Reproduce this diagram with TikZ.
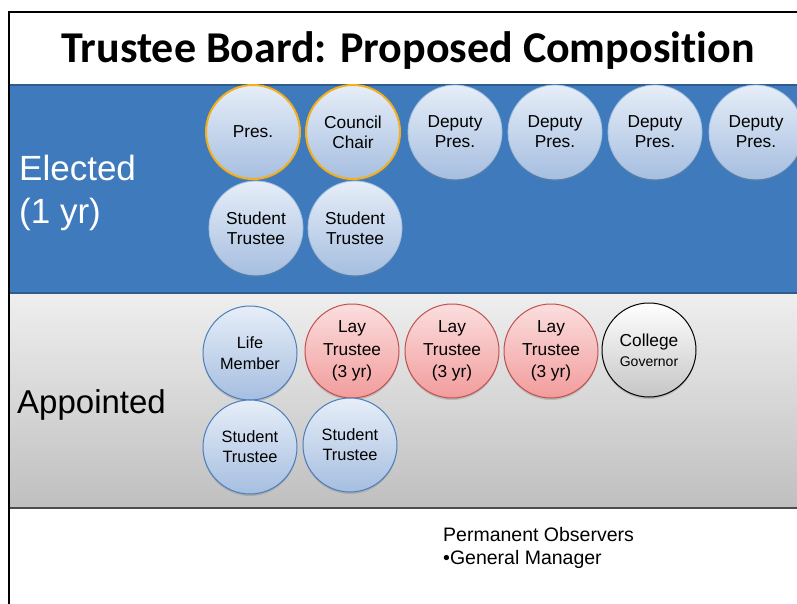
\documentclass[tikz,border=0pt]{standalone}
\usepackage{fontspec}
\setmainfont{Liberation Sans}
\newfontfamily\titlefont[Ligatures=NoCommon]{Carlito}
\usetikzlibrary{shadows}
\definecolor{bandblue}{HTML}{3F7BBC}
\definecolor{bandline}{HTML}{2E5C8E}
\definecolor{seatgold}{HTML}{F2B01E}
\definecolor{seattop}{HTML}{E6EEF8}
\definecolor{seatbot}{HTML}{A6BEE0}
\definecolor{seatedge}{HTML}{4A7EBB}
\definecolor{laytop}{HTML}{FBDEDE}
\definecolor{laybot}{HTML}{F29C9C}
\definecolor{layedge}{HTML}{C0504D}
\tikzset{
 seat/.style={circle,minimum size=94pt,inner sep=0pt,align=center,top color=seattop,bottom color=seatbot,
   font=\fontsize{17.3}{20}\selectfont,drop shadow={shadow xshift=0pt,shadow yshift=-2pt,opacity=.35}},
 electseat/.style={seat,draw=seattop!60!bandblue,line width=.8pt},
 chairseat/.style={seat,draw=seatgold,line width=2pt},
 appseat/.style={seat,draw=seatedge,line width=1pt},
 layseat/.style={seat,draw=layedge,line width=1pt,top color=laytop,bottom color=laybot,font=\fontsize{17.3}{22.5}\selectfont},
 govseat/.style={seat,draw=black,line width=1pt,top color=white,bottom color=gray!45},
 bandlabel/.style={inner sep=0pt,font=\fontsize{33}{43}\selectfont,align=left}
}
\begin{document}
\begin{tikzpicture}[x=1pt,y=-1pt]
\useasboundingbox (0,0) rectangle (797,604);
\fill[white] (0,0) rectangle (797,604);
\fill[bandblue] (10,85) rectangle (797,293);
\shade[top color=gray!13,bottom color=gray!50] (10,293) rectangle (797,508);
\draw[bandline,line width=1.5pt] (10,85) -- (797,85);
\draw[bandline,line width=1.5pt] (10,293) -- (797,293);
\draw[gray!60!black,line width=2pt] (10,508) -- (797,508);
\draw[line width=2pt] (9,604) -- (9,12) -- (797,12);

\node[anchor=base,inner sep=0pt,font=\titlefont\bfseries\fontsize{44}{50}\selectfont] (title) at (408,63) {Trustee Board: Proposed Composition};
\node[bandlabel,white,anchor=north west,font=\fontsize{35}{43}\selectfont] (elected) at (19,155) {Elected\\(1 yr)};
\node[bandlabel,anchor=base west] (appointed) at (17,413) {Appointed};

\node[chairseat] (pres) at (253,132) {Pres.};
\node[chairseat] (chair) at (353,132) {Council\\Chair};
\foreach \i/\x in {1/455,2/555,3/655,4/756}\node[electseat] (dep\i) at (\x,132) {Deputy\\Pres.};
\node[electseat] (stu1) at (256,228) {Student\\Trustee};
\node[electseat] (stu2) at (355,228) {Student\\Trustee};

\node[appseat,font=\fontsize{16.3}{20.5}\selectfont] (life) at (250,353) {Life\\Member};
\foreach \i/\x in {1/352,2/452,3/551}\node[layseat] (lay\i) at (\x,351) {Lay\\Trustee\\(3 yr)};
\node[govseat] (gov) at (649,350) {College\\{\fontsize{14}{16}\selectfont Governor}};
\node[appseat,font=\fontsize{16.4}{20}\selectfont] (astu1) at (250,447) {Student\\Trustee};
\node[appseat,font=\fontsize{16.4}{20}\selectfont] (astu2) at (350,445) {Student\\Trustee};

\node[anchor=north west,inner sep=0pt,align=left,font=\fontsize{19.5}{23}\selectfont] (observers) at (443,527) {Permanent Observers\\•General Manager};
\end{tikzpicture}
\end{document}
